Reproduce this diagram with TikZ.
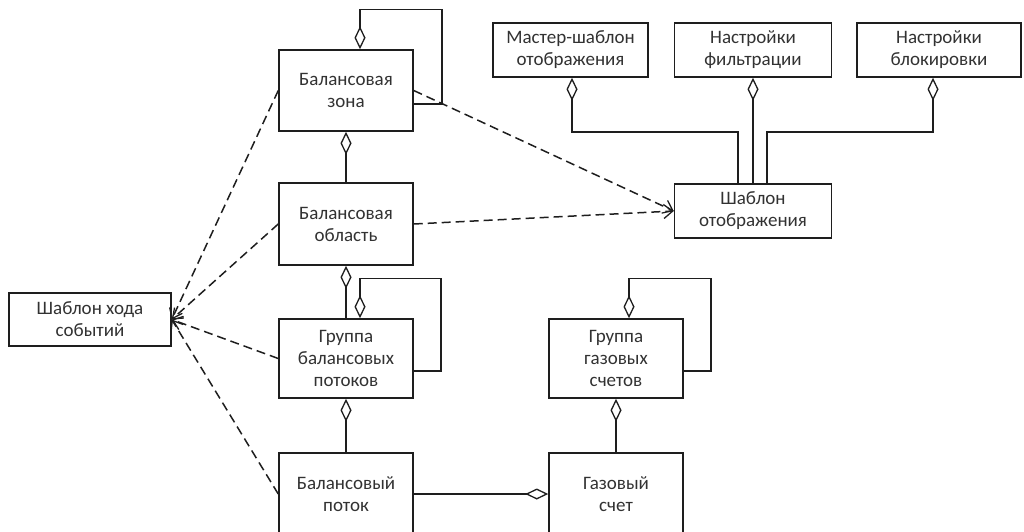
\documentclass[tikz,border=0pt]{standalone}
\usepackage{fontspec}
\setmainfont{Carlito}
\usetikzlibrary{arrows.meta}
\definecolor{ink}{RGB}{30,30,30}
\definecolor{txt}{RGB}{50,50,50}
\tikzset{
  cls/.style={draw=ink, line width=1.5pt, fill=white, align=center, inner sep=0pt,
    text=txt, font=\fontsize{19}{22}\selectfont},
  agg/.style={draw=ink, line width=1.5pt, {Diamond[open,length=23pt,width=11pt,line width=1.3pt]}-},
  dep/.style={draw=ink, line width=1.5pt, dash pattern=on 9pt off 5pt,
    -{Straight Barb[length=9pt,width=14pt,line width=1.3pt]}}
}
\begin{document}
\begin{tikzpicture}[x=1pt,y=-1pt]
\useasboundingbox (0,0) rectangle (1024,531);
\clip (0,0) rectangle (1024,531);
% nodes
\node[cls, minimum width=134pt, minimum height=81pt] (zona) at (346,90.5) {Балансовая\\зона};
\node[cls, minimum width=134pt, minimum height=82pt] (oblast) at (346,224) {Балансовая\\область};
\node[cls, minimum width=134pt, minimum height=79pt] (grupbp) at (346,358.5) {Группа\\балансовых\\потоков};
\node[cls, minimum width=134pt, minimum height=82pt] (potok) at (346,494) {Балансовый\\поток};
\node[cls, minimum width=134pt, minimum height=79pt] (grupgs) at (616,358.5) {Группа\\газовых\\счетов};
\node[cls, minimum width=134pt, minimum height=82pt] (gazschet) at (616,494) {Газовый\\счет};
\node[cls, minimum width=155pt, minimum height=54pt] (master) at (570.5,50) {Мастер-шаблон\\отображения};
\node[cls, minimum width=157pt, minimum height=54pt] (filtr) at (753,50) {Настройки\\фильтрации};
\node[cls, minimum width=164pt, minimum height=54pt] (blok) at (939,50) {Настройки\\блокировки};
\node[cls, minimum width=157pt, minimum height=54pt] (shabotobr) at (753,211) {Шаблон\\отображения};
\node[cls, minimum width=162pt, minimum height=53pt] (shabhod) at (90,319.5) {Шаблон хода\\событий};
% coordinates for loops
\coordinate (zl1) at ([xshift=14pt]zona.north);
\coordinate (zl2) at ([yshift=-13.5pt]zona.east);
\coordinate (gl1) at ([xshift=14pt]grupbp.north);
\coordinate (gl2) at ([yshift=-12.5pt]grupbp.east);
\coordinate (sl1) at ([xshift=13pt]grupgs.north);
\coordinate (sl2) at ([yshift=-12.5pt]grupgs.east);
% self loops
\draw[agg] (zl1) -- ++(0,-40) -| ([xshift=28pt]zl2) -- (zl2);
\draw[agg] (gl1) -- ++(0,-40) -| ([xshift=27pt]gl2) -- (gl2);
\draw[agg] (sl1) -- ++(0,-40) -| ([xshift=27pt]sl2) -- (sl2);
% aggregations
\draw[agg] (zona.south) -- (oblast.north);
\draw[agg] (oblast.south) -- (grupbp.north);
\draw[agg] (grupbp.south) -- (potok.north);
\draw[agg] (grupgs.south) -- (gazschet.north);
\draw[agg] (gazschet.west) -- (potok.east);
% template settings
\coordinate (mA) at ([xshift=1.5pt]master.south);
\coordinate (mB) at ([xshift=-15pt]shabotobr.north);
\coordinate (bA) at ([xshift=-6pt]blok.south);
\coordinate (bB) at ([xshift=14pt]shabotobr.north);
\draw[agg] (mA) -- ++(0,54) -| (mB);
\draw[agg] (filtr.south) -- (shabotobr.north);
\draw[agg] (bA) -- ++(0,54) -| (bB);
% dependencies
\draw[dep] (zona.east) -- (shabotobr.west);
\draw[dep] (oblast.east) -- (shabotobr.west);
\draw[dep] (zona.west) -- (shabhod.east);
\draw[dep] (oblast.west) -- (shabhod.east);
\draw[dep] (grupbp.west) -- (shabhod.east);
\draw[dep] (potok.west) -- (shabhod.east);
\end{tikzpicture}
\end{document}
